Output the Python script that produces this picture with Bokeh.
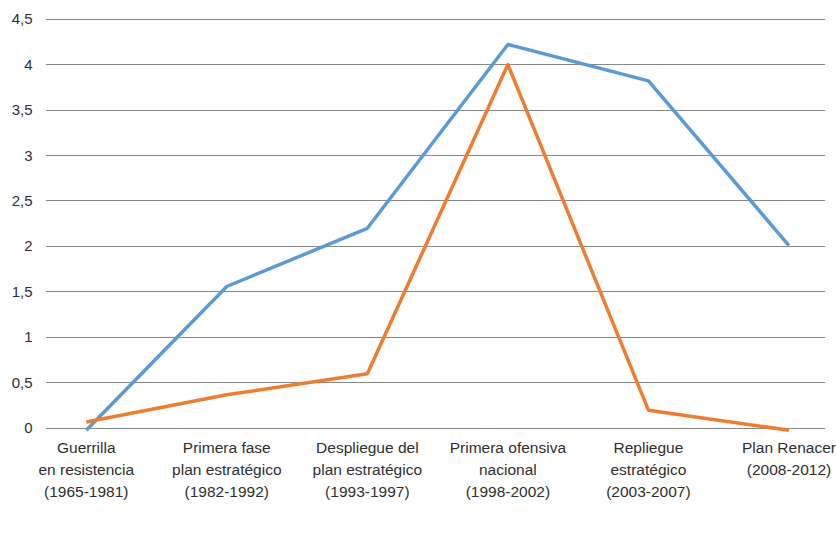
from bokeh.plotting import figure
from bokeh.models import FixedTicker, Legend, LegendItem, Range1d, LinearAxis
from bokeh.embed import file_html
from bokeh.resources import INLINE

categories = [["Guerrilla", "en resistencia", "(1965-1981)"],
              ["Primera fase", "plan estratégico", "(1982-1992)"],
              ["Despliegue del", "plan estratégico", "(1993-1997)"],
              ["Primera ofensiva", "nacional", "(1998-2002)"],
              ["Repliegue", "estratégico", "(2003-2007)"],
              ["Plan Renacer", "(2008-2012)", ""]]
ataques = [-0.02, 1.56, 2.2, 4.22, 3.82, 2.01]
tomas = [0.07, 0.37, 0.6, 4.0, 0.2, -0.02]
y_ticks = [0, 0.5, 1, 1.5, 2, 2.5, 3, 3.5, 4, 4.5]
y_labels = ["0", "0,5", "1", "1,5", "2", "2,5", "3", "3,5", "4", "4,5"]

xs = list(range(len(categories)))
FONT = "Liberation Sans"
TXT = "#2f2f2f"

p = figure(frame_width=780, frame_height=423, output_backend="svg", toolbar_location=None,
           x_range=Range1d(-0.29, 5.26), y_range=Range1d(-0.1, 4.55),
           x_axis_type=None,
           min_border_left=45, min_border_right=11, min_border_top=14,
           min_border_bottom=0)
p.outline_line_color = None
p.xgrid.visible = False
p.ygrid.grid_line_color = "#888888"
p.ygrid.grid_line_width = 1
p.ygrid.ticker = FixedTicker(ticks=y_ticks)

p.yaxis.ticker = FixedTicker(ticks=y_ticks)
p.yaxis.major_label_overrides = {t: l for t, l in zip(y_ticks, y_labels)}
p.yaxis.axis_line_color = None
p.yaxis.major_tick_line_color = None
p.yaxis.minor_tick_line_color = None
p.yaxis.major_tick_out = 0
p.yaxis.major_tick_in = 0
p.yaxis.major_label_standoff = 13
p.yaxis.major_label_text_font = FONT
p.yaxis.major_label_text_font_size = "15px"
p.yaxis.major_label_text_color = TXT

for line in range(3):
    labels = {i: (c[line] if c[line] else " ") for i, c in enumerate(categories)}
    ax = LinearAxis(ticker=FixedTicker(ticks=xs),
                    major_label_overrides=labels,
                    axis_line_color=None, major_tick_line_color=None,
                    minor_tick_line_color=None, major_tick_out=0, major_tick_in=0,
                    major_label_standoff=[1, 2, 2][line],
                    major_label_text_font=FONT, major_label_text_font_size="15.5px",
                    major_label_text_color=TXT)
    p.add_layout(ax, "below")

r1 = p.line(xs, ataques, line_color="#5B9BD5", line_width=3.5, line_join="round")
r2 = p.line(xs, tomas, line_color="#ED7D31", line_width=3.5, line_join="round")

legend = Legend(items=[LegendItem(label="Ataques", renderers=[r1]),
                       LegendItem(label="Tomas", renderers=[r2])],
                orientation="horizontal", location="center",
                label_text_font=FONT, label_text_font_size="13px",
                label_text_color=TXT, border_line_color=None,
                background_fill_alpha=0, glyph_width=32, glyph_height=14,
                label_height=14, label_standoff=5, spacing=30,
                padding=0, margin=6)
p.add_layout(legend, "below")

open("out.html", "w").write(file_html(p, INLINE))
